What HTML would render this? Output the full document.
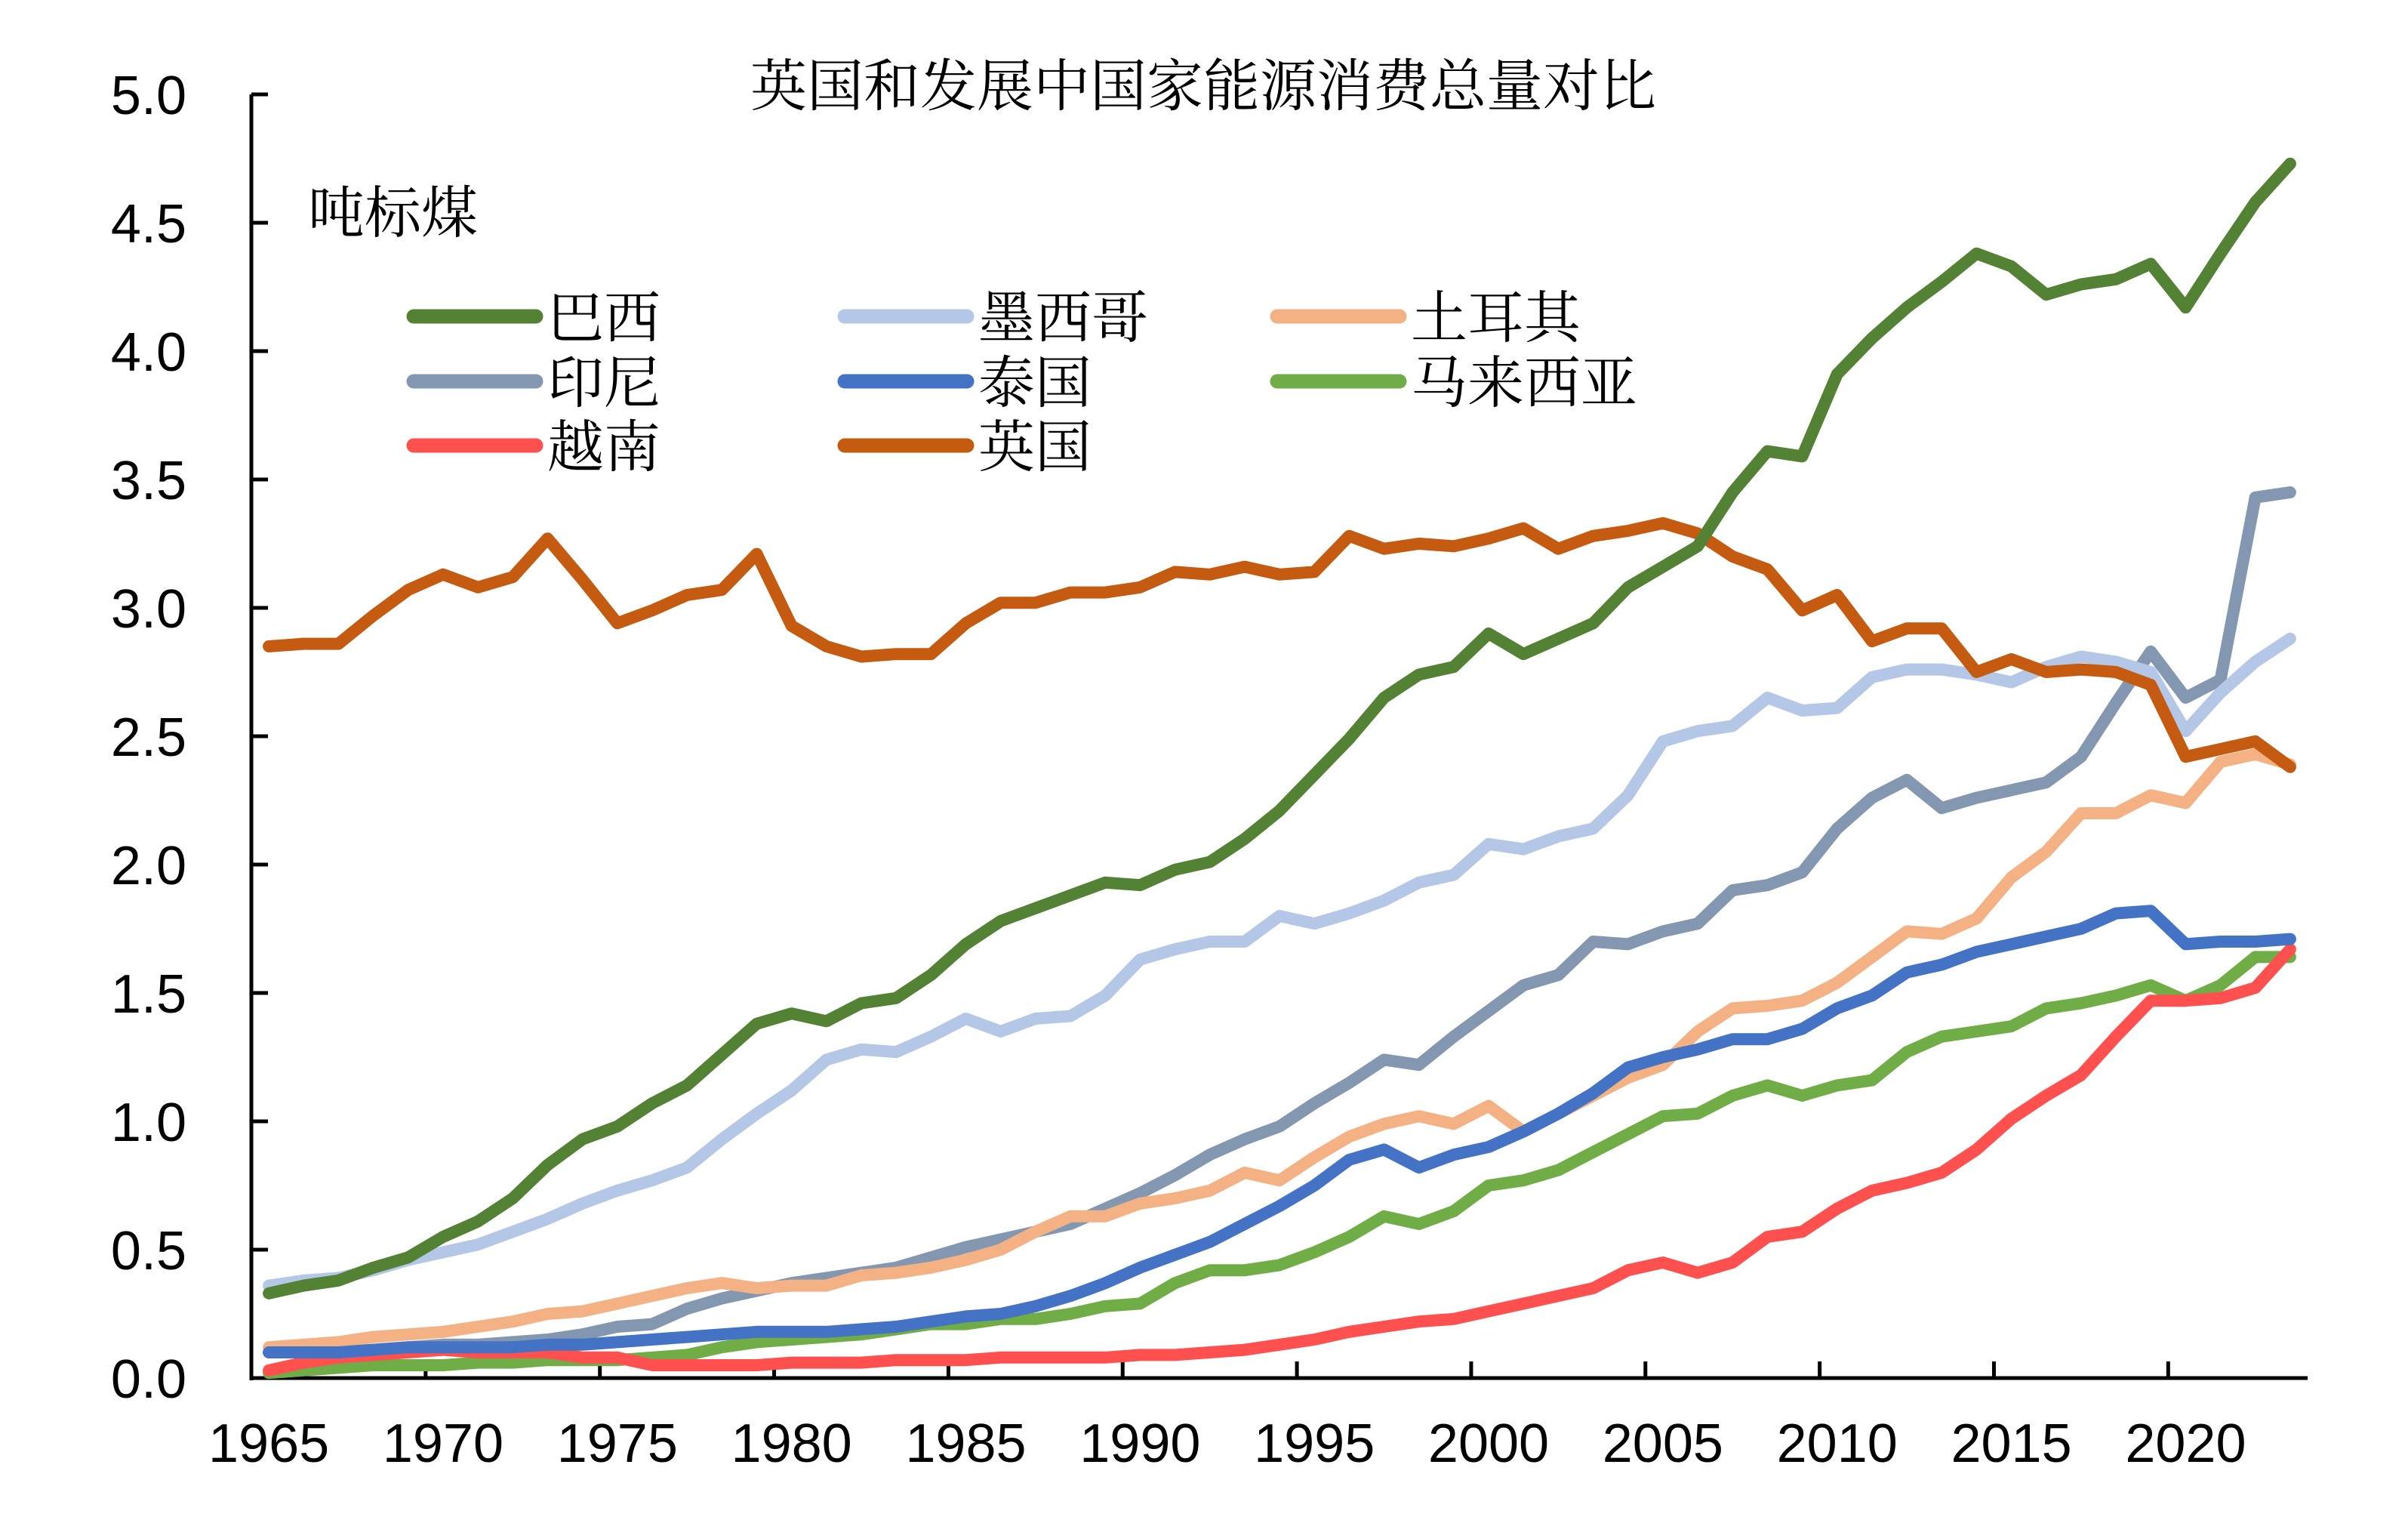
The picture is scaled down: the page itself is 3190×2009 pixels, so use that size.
<!DOCTYPE html>
<html><head><meta charset="utf-8"><style>
html,body{margin:0;padding:0;background:#fff;}
svg{display:block;}
.tk{font-family:"Liberation Sans",sans-serif;font-size:72px;fill:#000;}
.cn{font-family:"Liberation Serif","Noto Serif CJK SC",serif;font-size:75px;fill:#000;}
</style></head><body>
<svg id="chart" width="3190" height="2009" viewBox="0 0 3190 2009" xmlns="http://www.w3.org/2000/svg">
<rect width="3190" height="2009" fill="#fff"/>
<text class="cn" x="1594" y="140" text-anchor="middle">英国和发展中国家能源消费总量对比</text>
<text class="cn" x="408" y="308">吨标煤</text>
<g id="grid"></g>
<g id="series"></g>
<g id="legend"></g>
</svg>
<script>
const years = []; for (let y = 1965; y <= 2023; y++) years.push(y);
const brazil = [0.33,0.36,0.38,0.43,0.47,0.55,0.61,0.70,0.83,0.93,0.98,1.07,1.14,1.26,1.38,1.42,1.39,1.46,1.48,1.57,1.69,1.78,1.83,1.88,1.93,1.92,1.98,2.01,2.10,2.21,2.35,2.49,2.65,2.74,2.77,2.90,2.82,2.88,2.94,3.08,3.16,3.24,3.45,3.61,3.59,3.91,4.05,4.17,4.27,4.38,4.33,4.22,4.26,4.28,4.34,4.17,4.38,4.58,4.73];
const mexico = [0.36,0.38,0.39,0.42,0.46,0.49,0.52,0.57,0.62,0.68,0.73,0.77,0.82,0.93,1.03,1.12,1.24,1.28,1.27,1.33,1.40,1.35,1.40,1.41,1.49,1.63,1.67,1.70,1.70,1.80,1.77,1.81,1.86,1.93,1.96,2.08,2.06,2.11,2.14,2.27,2.48,2.52,2.54,2.65,2.60,2.61,2.73,2.76,2.76,2.74,2.71,2.77,2.81,2.79,2.75,2.52,2.67,2.79,2.88];
const turkey = [0.12,0.13,0.14,0.16,0.17,0.18,0.20,0.22,0.25,0.26,0.29,0.32,0.35,0.37,0.35,0.36,0.36,0.40,0.41,0.43,0.46,0.50,0.57,0.63,0.63,0.68,0.70,0.73,0.80,0.77,0.86,0.94,0.99,1.02,0.99,1.06,0.96,1.03,1.10,1.17,1.22,1.35,1.44,1.45,1.47,1.54,1.64,1.74,1.73,1.79,1.95,2.05,2.20,2.20,2.27,2.24,2.40,2.43,2.39];
const indonesia = [0.10,0.10,0.10,0.11,0.12,0.13,0.13,0.14,0.15,0.17,0.20,0.21,0.27,0.31,0.34,0.37,0.39,0.41,0.43,0.47,0.51,0.54,0.57,0.60,0.66,0.72,0.79,0.87,0.93,0.98,1.07,1.15,1.24,1.22,1.33,1.43,1.53,1.57,1.70,1.69,1.74,1.77,1.90,1.92,1.97,2.14,2.26,2.33,2.22,2.26,2.29,2.32,2.42,2.63,2.83,2.65,2.72,3.43,3.45];
const thailand = [0.10,0.10,0.10,0.11,0.12,0.12,0.12,0.12,0.13,0.13,0.14,0.15,0.16,0.17,0.18,0.18,0.18,0.19,0.20,0.22,0.24,0.25,0.28,0.32,0.37,0.43,0.48,0.53,0.60,0.67,0.75,0.85,0.89,0.82,0.87,0.90,0.96,1.03,1.11,1.21,1.25,1.28,1.32,1.32,1.36,1.44,1.49,1.58,1.61,1.66,1.69,1.72,1.75,1.81,1.82,1.69,1.70,1.70,1.71];
const malaysia = [0.02,0.03,0.04,0.05,0.05,0.05,0.06,0.06,0.07,0.07,0.07,0.08,0.09,0.12,0.14,0.15,0.16,0.17,0.19,0.21,0.21,0.23,0.23,0.25,0.28,0.29,0.37,0.42,0.42,0.44,0.49,0.55,0.63,0.60,0.65,0.75,0.77,0.81,0.88,0.95,1.02,1.03,1.10,1.14,1.10,1.14,1.16,1.27,1.33,1.35,1.37,1.44,1.46,1.49,1.53,1.47,1.53,1.64,1.64];
const vietnam = [0.03,0.06,0.08,0.09,0.10,0.11,0.10,0.10,0.10,0.08,0.08,0.05,0.05,0.05,0.05,0.06,0.06,0.06,0.07,0.07,0.07,0.08,0.08,0.08,0.08,0.09,0.09,0.10,0.11,0.13,0.15,0.18,0.20,0.22,0.23,0.26,0.29,0.32,0.35,0.42,0.45,0.41,0.45,0.55,0.57,0.66,0.73,0.76,0.80,0.89,1.01,1.10,1.18,1.33,1.47,1.47,1.48,1.52,1.67];
const uk = [2.85,2.86,2.86,2.97,3.07,3.13,3.08,3.12,3.27,3.11,2.94,2.99,3.05,3.07,3.21,2.93,2.85,2.81,2.82,2.82,2.94,3.02,3.02,3.06,3.06,3.08,3.14,3.13,3.16,3.13,3.14,3.28,3.23,3.25,3.24,3.27,3.31,3.23,3.28,3.30,3.33,3.29,3.20,3.15,2.99,3.05,2.87,2.92,2.92,2.75,2.80,2.75,2.76,2.75,2.70,2.42,2.45,2.48,2.38];
const yTicks = [0,0.5,1,1.5,2,2.5,3,3.5,4,4.5,5];
const xTickLabels = [1965,1970,1975,1980,1985,1990,1995,2000,2005,2010,2015,2020];

const NS = "http://www.w3.org/2000/svg";
const L = 333, R = 3057, Y0 = 1825, Y5 = 125;
const band = (R - L) / years.length;
const xPos = i => L + (i + 0.5) * band;
const yPos = v => Y0 - (v / 5) * (Y0 - Y5);
function mk(tag, attrs, parent) { const e = document.createElementNS(NS, tag); for (const k in attrs) e.setAttribute(k, attrs[k]); parent.appendChild(e); return e; }

const grid = document.getElementById('grid');
let e = mk('line', {x1: L, y1: Y5, x2: L, y2: Y0 + 3, stroke: '#000', 'stroke-width': 5}, grid);


e = mk('line', {x1: L - 2, y1: Y0, x2: R, y2: Y0, stroke: '#000', 'stroke-width': 5}, grid);


yTicks.forEach(v => {
  const y = yPos(v);
  const t = mk('line', {x1: L, y1: y, x2: L + 22, y2: y, stroke: '#000', 'stroke-width': 5}, grid);
  
  
  const tx = mk('text', {x: 247, y: y + 26, 'text-anchor': 'end', class: 'tk'}, grid);
  tx.textContent = v.toFixed(1);
  
  
});
xTickLabels.forEach(yr => {
  const i = years.indexOf(yr);
  if (i > 0) {
    const bx = L + i * band;
    const t = mk('line', {x1: bx, y1: Y0, x2: bx, y2: Y0 - 22, stroke: '#000', 'stroke-width': 5}, grid);
    
    
  }
  const tx = mk('text', {x: xPos(i), y: 1936, 'text-anchor': 'middle', class: 'tk'}, grid);
  tx.textContent = yr;
  
  
});

const series = [
  ['巴西', brazil, '#548235', 'brazil'],
  ['墨西哥', mexico, '#B4C7E7', 'mexico'],
  ['土耳其', turkey, '#F4B183', 'turkey'],
  ['印尼', indonesia, '#8497B0', 'indonesia'],
  ['泰国', thailand, '#4472C4', 'thailand'],
  ['马来西亚', malaysia, '#70AD47', 'malaysia'],
  ['越南', vietnam, '#FF5050', 'vietnam'],
  ['英国', uk, '#C55A11', 'uk']
];
const sg = document.getElementById('series');
const drawOrder = [5, 6, 3, 2, 4, 1, 7, 0];
drawOrder.forEach(k => {
  const s = series[k];
  const pts = s[1].map((v, i) => xPos(i).toFixed(1) + ',' + yPos(v).toFixed(1)).join(' ');
  const p = mk('polyline', {points: pts, fill: 'none', stroke: s[2], 'stroke-width': 16, 'stroke-linejoin': 'round', 'stroke-linecap': 'round'}, sg);
  
  
});

const lg = document.getElementById('legend');
const colX = [548, 1119, 1692], rowY = [419, 505, 590];
series.forEach((s, i) => {
  const cx = colX[i % 3], cy = rowY[Math.floor(i / 3)];
  const ln = mk('line', {x1: cx, y1: cy, x2: cx + 162, y2: cy, stroke: s[2], 'stroke-width': 19, 'stroke-linecap': 'round'}, lg);
  
  
  const tx = mk('text', {x: cx + 177, y: cy + 28, class: 'cn'}, lg);
  tx.textContent = s[0];
  
  
});
</script>
</body></html>
